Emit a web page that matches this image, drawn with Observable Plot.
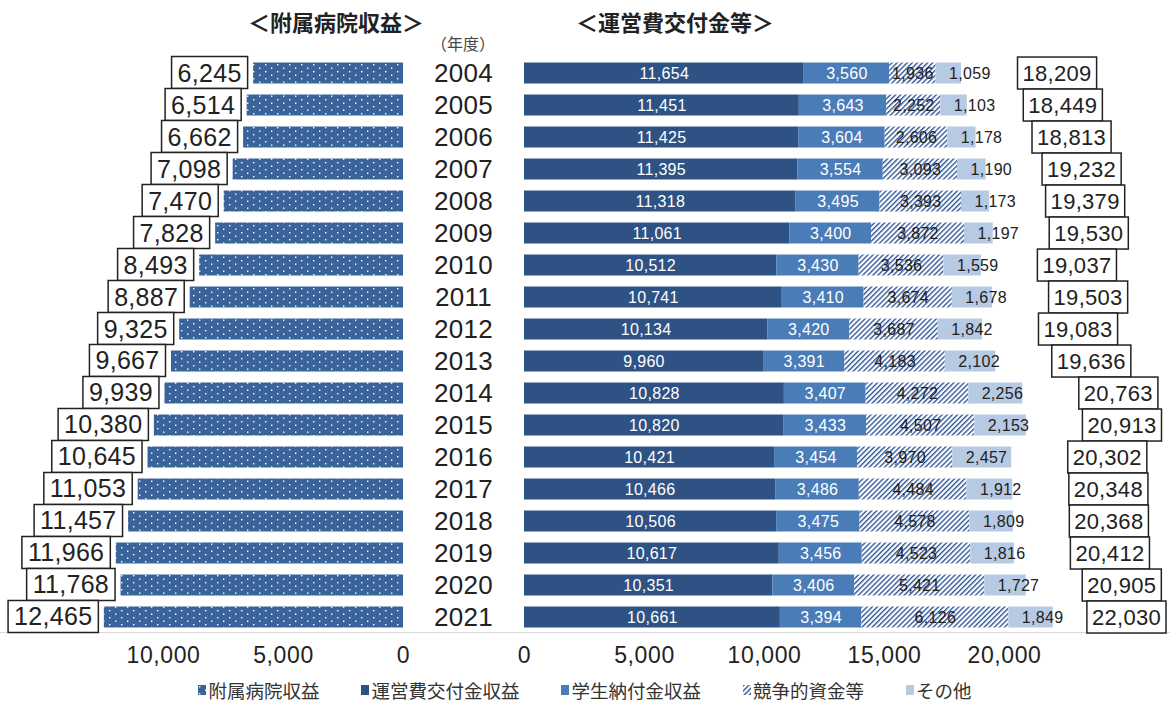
<!DOCTYPE html>
<html><head><meta charset="utf-8">
<script src="https://cdn.jsdelivr.net/npm/d3@7"></script>
<script src="https://cdn.jsdelivr.net/npm/@observablehq/plot@0.6"></script>
<style>
  html,body{margin:0;padding:0;background:#fff;}
  #wrap{position:relative;width:1170px;height:704px;font-family:"Liberation Sans","Noto Sans CJK JP",Arial,sans-serif;color:#222;overflow:hidden;}
  .title{position:absolute;top:5px;font-family:"Noto Sans CJK JP",sans-serif;font-weight:700;font-size:22px;color:#222;text-align:center;white-space:nowrap;}
  #nendo{position:absolute;top:31px;left:413px;width:100px;text-align:center;font-family:"Noto Sans CJK JP",sans-serif;font-size:16px;color:#444;}
  #legend{position:absolute;top:677px;left:0;width:1170px;display:flex;justify-content:center;gap:42px;font-family:"Noto Sans CJK JP",sans-serif;font-size:18.5px;color:#333;}
  #legend .it{display:flex;align-items:center;gap:2px;}
  #baseline{position:absolute;left:0;top:632px;width:1170px;height:1px;background:#d9d9d9;}
</style>
</head><body>
<svg width="0" height="0" style="position:absolute">
  <defs>
    <pattern id="dots" width="12" height="7" patternUnits="userSpaceOnUse">
      <rect width="12" height="7" fill="#3a6399"/>
      <rect x="1" y="1" width="1.4" height="1.4" fill="#fff"/>
      <rect x="7" y="4.5" width="1.4" height="1.4" fill="#fff"/>
    </pattern>
    <pattern id="hatch" width="3.6" height="3.6" patternUnits="userSpaceOnUse" patternTransform="rotate(45)">
      <rect width="3.6" height="3.6" fill="#fff"/>
      <line x1="0.7" y1="0" x2="0.7" y2="3.6" stroke="#2f5597" stroke-width="1.4"/>
    </pattern>
  </defs>
</svg>
<div id="wrap">
  <div id="baseline"></div>
  <div class="title" style="left:236px;width:200px;">＜附属病院収益＞</div>
  <div class="title" style="left:575px;width:200px;">＜運営費交付金等＞</div>
  <div id="nendo">（年度）</div>
  <div id="legend"></div>
</div>
<script>
// ---- data ----
const years = ["2004","2005","2006","2007","2008","2009","2010","2011","2012","2013","2014","2015","2016","2017","2018","2019","2020","2021"];
const hospital = [6245,6514,6662,7098,7470,7828,8493,8887,9325,9667,9939,10380,10645,11053,11457,11966,11768,12465];
const seriesNames = ["運営費交付金収益","学生納付金収益","競争的資金等","その他"];
const unyouhi = [11654,11451,11425,11395,11318,11061,10512,10741,10134,9960,10828,10820,10421,10466,10506,10617,10351,10661];
const gakusei = [3560,3643,3604,3554,3495,3400,3430,3410,3420,3391,3407,3433,3454,3486,3475,3456,3406,3394];
const kyousou = [1936,2252,2606,3093,3393,3872,3536,3674,3687,4183,4272,4507,3970,4484,4578,4523,5421,6126];
const sonota  = [1059,1103,1178,1190,1173,1197,1559,1678,1842,2102,2256,2153,2457,1912,1809,1816,1727,1849];
const totals  = [18209,18449,18813,19232,19379,19530,19037,19503,19083,19636,20763,20913,20302,20348,20368,20412,20905,22030];
const leftTicks = [0,5000,10000];
const rightTicks = [0,5000,10000,15000,20000];

const colDark = "#2f5284", colMid = "#4a7cb8", colLight = "#b7cae4";
const fmt = d3.format(",");

const hospTable = years.map((y,i)=>({year:y, value:hospital[i]}));
const seriesVals = [unyouhi, gakusei, kyousou, sonota];
const stackTable = [];
years.forEach((y,i)=>seriesNames.forEach((s,j)=>stackTable.push({year:y, series:s, value:seriesVals[j][i]})));
const totTable = years.map((y,i)=>({year:y, total:totals[i]}));

const H = 680, mTop = 51.5, mBot = 41.5, pad = 0.344;
const font = '"Liberation Sans",Arial,sans-serif';

const left = Plot.plot({
  width: 470, height: H,
  marginLeft: 10, marginRight: 67, marginTop: mTop, marginBottom: mBot,
  style: {fontFamily: font, fontSize: "23px", color: "#222", background: "transparent", overflow: "visible"},
  x: {domain: [0, 16375], reverse: true, ticks: leftTicks, tickFormat: fmt, tickSize: 0, tickPadding: 8, label: null},
  y: {domain: years, padding: pad, round: false, axis: null},
  marks: [
    Plot.barX(hospTable, {x: "value", y: "year", fill: "url(#dots)"}),
    Plot.text(hospTable, {x: "value", y: "year", text: d => fmt(d.value), textAnchor: "end", dx: -12, fontSize: 25, fill: "#222", ariaDescription: "box-left"}),
    Plot.text(hospTable, {x: 0, y: "year", text: "year", dx: 60, fontSize: 26, fill: "#222", ariaDescription: "year-label"})
  ]
});

const right = Plot.plot({
  width: 700, height: H,
  marginLeft: 54, marginRight: 0, marginTop: mTop, marginBottom: mBot,
  style: {fontFamily: font, fontSize: "23px", color: "#222", background: "transparent", overflow: "visible"},
  x: {domain: [0, 26917], ticks: rightTicks, tickFormat: fmt, tickSize: 0, tickPadding: 8, label: null},
  y: {domain: years, padding: pad, round: false, axis: null},
  color: {domain: seriesNames, range: [colDark, colMid, "url(#hatch)", colLight]},
  marks: [
    Plot.barX(stackTable, Plot.stackX({x: "value", y: "year", fill: "series"})),
    Plot.text(stackTable, Plot.stackX({x: "value", y: "year",
      text: d => (d.series === seriesNames[0] || d.series === seriesNames[1]) ? fmt(d.value) : null,
      fill: "white", fontSize: 16, ariaDescription: "inbar"})),
    Plot.text(stackTable, Plot.stackX({x: "value", y: "year",
      text: d => d.series === seriesNames[2] ? fmt(d.value) : null,
      fill: "#222", fontSize: 16, ariaDescription: "inbar"})),
    Plot.text(stackTable, Plot.stackX1({x: "value", y: "year",
      text: d => d.series === seriesNames[3] ? fmt(d.value) : null,
      fill: "#222", fontSize: 16, textAnchor: "start", dx: 13, ariaDescription: "inbar"})),
    Plot.text(totTable, {x: "total", y: "year", text: d => fmt(d.total), textAnchor: "start", dx: 61, fontSize: 22, fill: "#222", ariaDescription: "box-right"})
  ]
});

const wrap = document.getElementById("wrap");
for (const [svg, x] of [[left, 0], [right, 470]]) {
  svg.style.position = "absolute";
  svg.style.top = "0px";
  svg.style.left = x + "px";
  svg.style.maxWidth = "none";
  wrap.appendChild(svg);
}

// slight letter spacing (the reference face has wide figures)
for (const svg of [left, right]) {
  svg.querySelectorAll('g[aria-label^="x-axis"] text').forEach(t => t.style.letterSpacing = "0.6px");
}
const spacing = (svg, desc, ls) => svg.querySelectorAll(`g[aria-description="${desc}"] text`).forEach(t => t.style.letterSpacing = ls);
spacing(left, "year-label", "0.3px");
spacing(left, "box-left", "0.3px");
spacing(right, "box-right", "0.3px");
spacing(right, "inbar", "0.3px");

// boxes around totals
function boxify(svg, label, padX, maxRight) {
  const ns = "http://www.w3.org/2000/svg";
  svg.querySelectorAll(`g[aria-description="${label}"] text`).forEach(t => {
    const b = t.getBBox();
    const g = document.createElementNS(ns, "g");
    t.parentNode.insertBefore(g, t);
    const r = document.createElementNS(ns, "rect");
    const hh = 32;
    const cy = b.y + b.height / 2;
    r.setAttribute("x", b.x - padX);
    r.setAttribute("y", cy - hh / 2);
    r.setAttribute("width", b.width + 2 * padX);
    r.setAttribute("height", hh);
    r.setAttribute("fill", "white");
    r.setAttribute("stroke", "#222");
    r.setAttribute("stroke-width", "1.5");
    const tr = t.getAttribute("transform");
    if (tr) r.setAttribute("transform", tr);
    g.appendChild(r);
    g.appendChild(t);
    if (maxRight != null) {
      const rr = r.getBoundingClientRect(), sr = svg.getBoundingClientRect();
      const rightEdge = rr.right - sr.left;
      if (rightEdge > maxRight) g.setAttribute("transform", `translate(${maxRight - rightEdge},0)`);
    }
  });
}
boxify(left, "box-left", 6, null);
boxify(right, "box-right", 5, 696);

// legend
const legend = document.getElementById("legend");
const legItems = [["附属病院収益", "url(#dots)"], ...seriesNames.map((s, i) => [s, [colDark, colMid, "url(#hatch)", colLight][i]])];
legItems.forEach(([name, fill]) => {
  const it = document.createElement("div");
  it.className = "it";
  it.innerHTML = `<svg width="8" height="10"><rect width="8" height="10" fill="${fill}"/></svg><span>${name}</span>`;
  legend.appendChild(it);
});
</script>
</body></html>
